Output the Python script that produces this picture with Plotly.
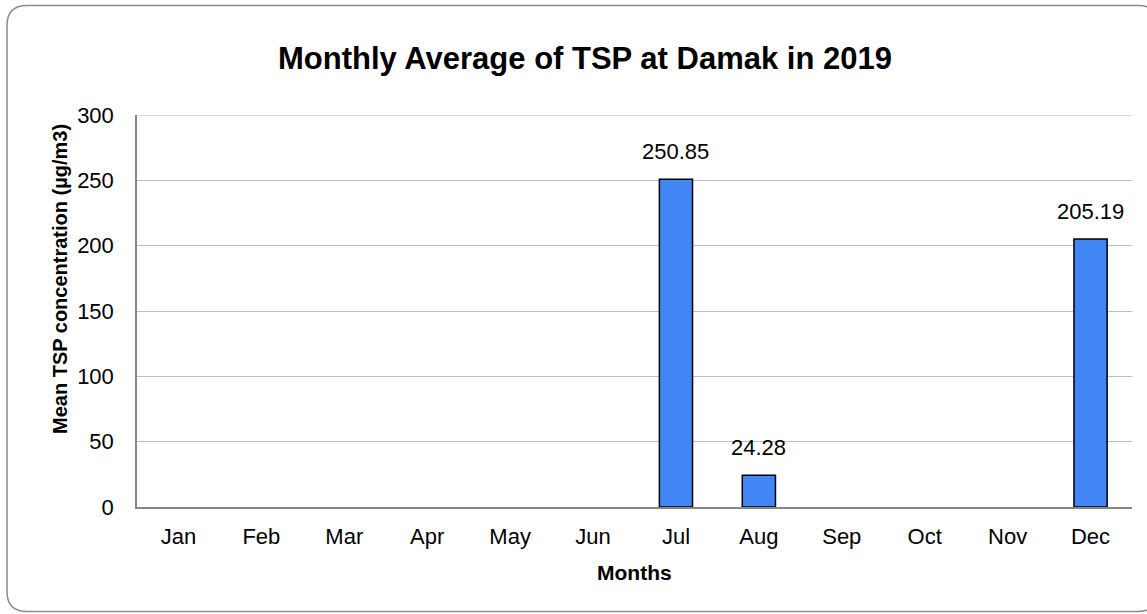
import plotly.graph_objects as go

months = ["Jan", "Feb", "Mar", "Apr", "May", "Jun", "Jul", "Aug", "Sep", "Oct", "Nov", "Dec"]
tsp_values = [None, None, None, None, None, None, 250.85, 24.28, None, None, None, 205.19]
y_ticks = [0, 50, 100, 150, 200, 250, 300]

title_text = "Monthly Average of TSP at Damak in 2019"
y_title = "Mean TSP concentration (µg/m3)"
x_title = "Months"

W, H = 1147, 614
ML, MR, MT, MB = 137, 15, 115, 107
PW, PH = W - ML - MR, H - MT - MB
FONT = "Arial, Liberation Sans, sans-serif"
GRID = "#BFBFBF"

def px_x(px):
    return (px - ML) / PW

def px_y(py):
    return (H - MB - py) / PH

fig = go.Figure()
fig.add_trace(go.Bar(
    x=months, y=tsp_values,
    marker=dict(color="#4285F4", line=dict(color="#000000", width=1.5)),
    hoverinfo="x+y", showlegend=False,
))

for m, v in zip(months, tsp_values):
    if v is not None:
        fig.add_annotation(x=m, y=v, xref="x", yref="y", text=f"{v:.2f}",
                           showarrow=False, yanchor="bottom", yshift=13,
                           font=dict(family=FONT, size=22, color="#000000"))

# axis titles as annotations
fig.add_annotation(x=px_x(60), y=px_y(279), xref="paper", yref="paper",
                   text=f"<b>{y_title}</b>", textangle=-90, showarrow=False,
                   xanchor="center", yanchor="middle",
                   font=dict(family=FONT, size=20, color="#000000"))
fig.add_annotation(x=0.5, y=px_y(572), xref="paper", yref="paper",
                   text=f"<b>{x_title}</b>", showarrow=False,
                   xanchor="center", yanchor="middle",
                   font=dict(family=FONT, size=21, color="#000000"))

# top gridline at the axis maximum (plotly hides gridlines at the range edge)
fig.add_shape(type="line", xref="paper", yref="y", x0=0, x1=1,
              y0=y_ticks[-1], y1=y_ticks[-1],
              line=dict(color=GRID, width=1.2), layer="below")

# rounded chart border
L, R, T, B = px_x(7), px_x(1158), px_y(5.5), px_y(611.5)
rx, ry = 20 / PW, 20 / PH
path = (f"M {L+rx} {T} L {R-rx} {T} Q {R} {T} {R} {T-ry} "
        f"L {R} {B+ry} Q {R} {B} {R-rx} {B} "
        f"L {L+rx} {B} Q {L} {B} {L} {B+ry} "
        f"L {L} {T-ry} Q {L} {T} {L+rx} {T} Z")
fig.add_shape(type="path", path=path, xref="paper", yref="paper",
              line=dict(color="#8C8C8C", width=1.5), layer="below")

fig.update_layout(
    width=W, height=H,
    margin=dict(l=ML, r=MR, t=MT, b=MB),
    paper_bgcolor="#FFFFFF", plot_bgcolor="#FFFFFF",
    bargap=0.6,
    title=dict(text=f"<b>{title_text}</b>", x=585 / W, xanchor="center",
               y=1 - 58 / H, yanchor="middle", xref="container", yref="container",
               font=dict(family=FONT, size=31, color="#000000")),
    font=dict(family=FONT, size=22, color="#000000"),
    xaxis=dict(
        categoryorder="array", categoryarray=months,
        showline=True, linecolor="#868686", linewidth=1.5,
        showgrid=False, ticks="", ticklabelstandoff=9,
        tickfont=dict(family=FONT, size=22, color="#000000"),
    ),
    yaxis=dict(
        range=[0, 300], tickvals=y_ticks,
        showline=True, linecolor="#868686", linewidth=1.5,
        showgrid=True, gridcolor=GRID, gridwidth=1.2,
        zeroline=False, ticks="", ticklabelstandoff=17,
        tickfont=dict(family=FONT, size=22, color="#000000"),
    ),
)

fig.write_html("out.html", config={"displayModeBar": False},
               post_script="document.body.style.margin='0px';")
